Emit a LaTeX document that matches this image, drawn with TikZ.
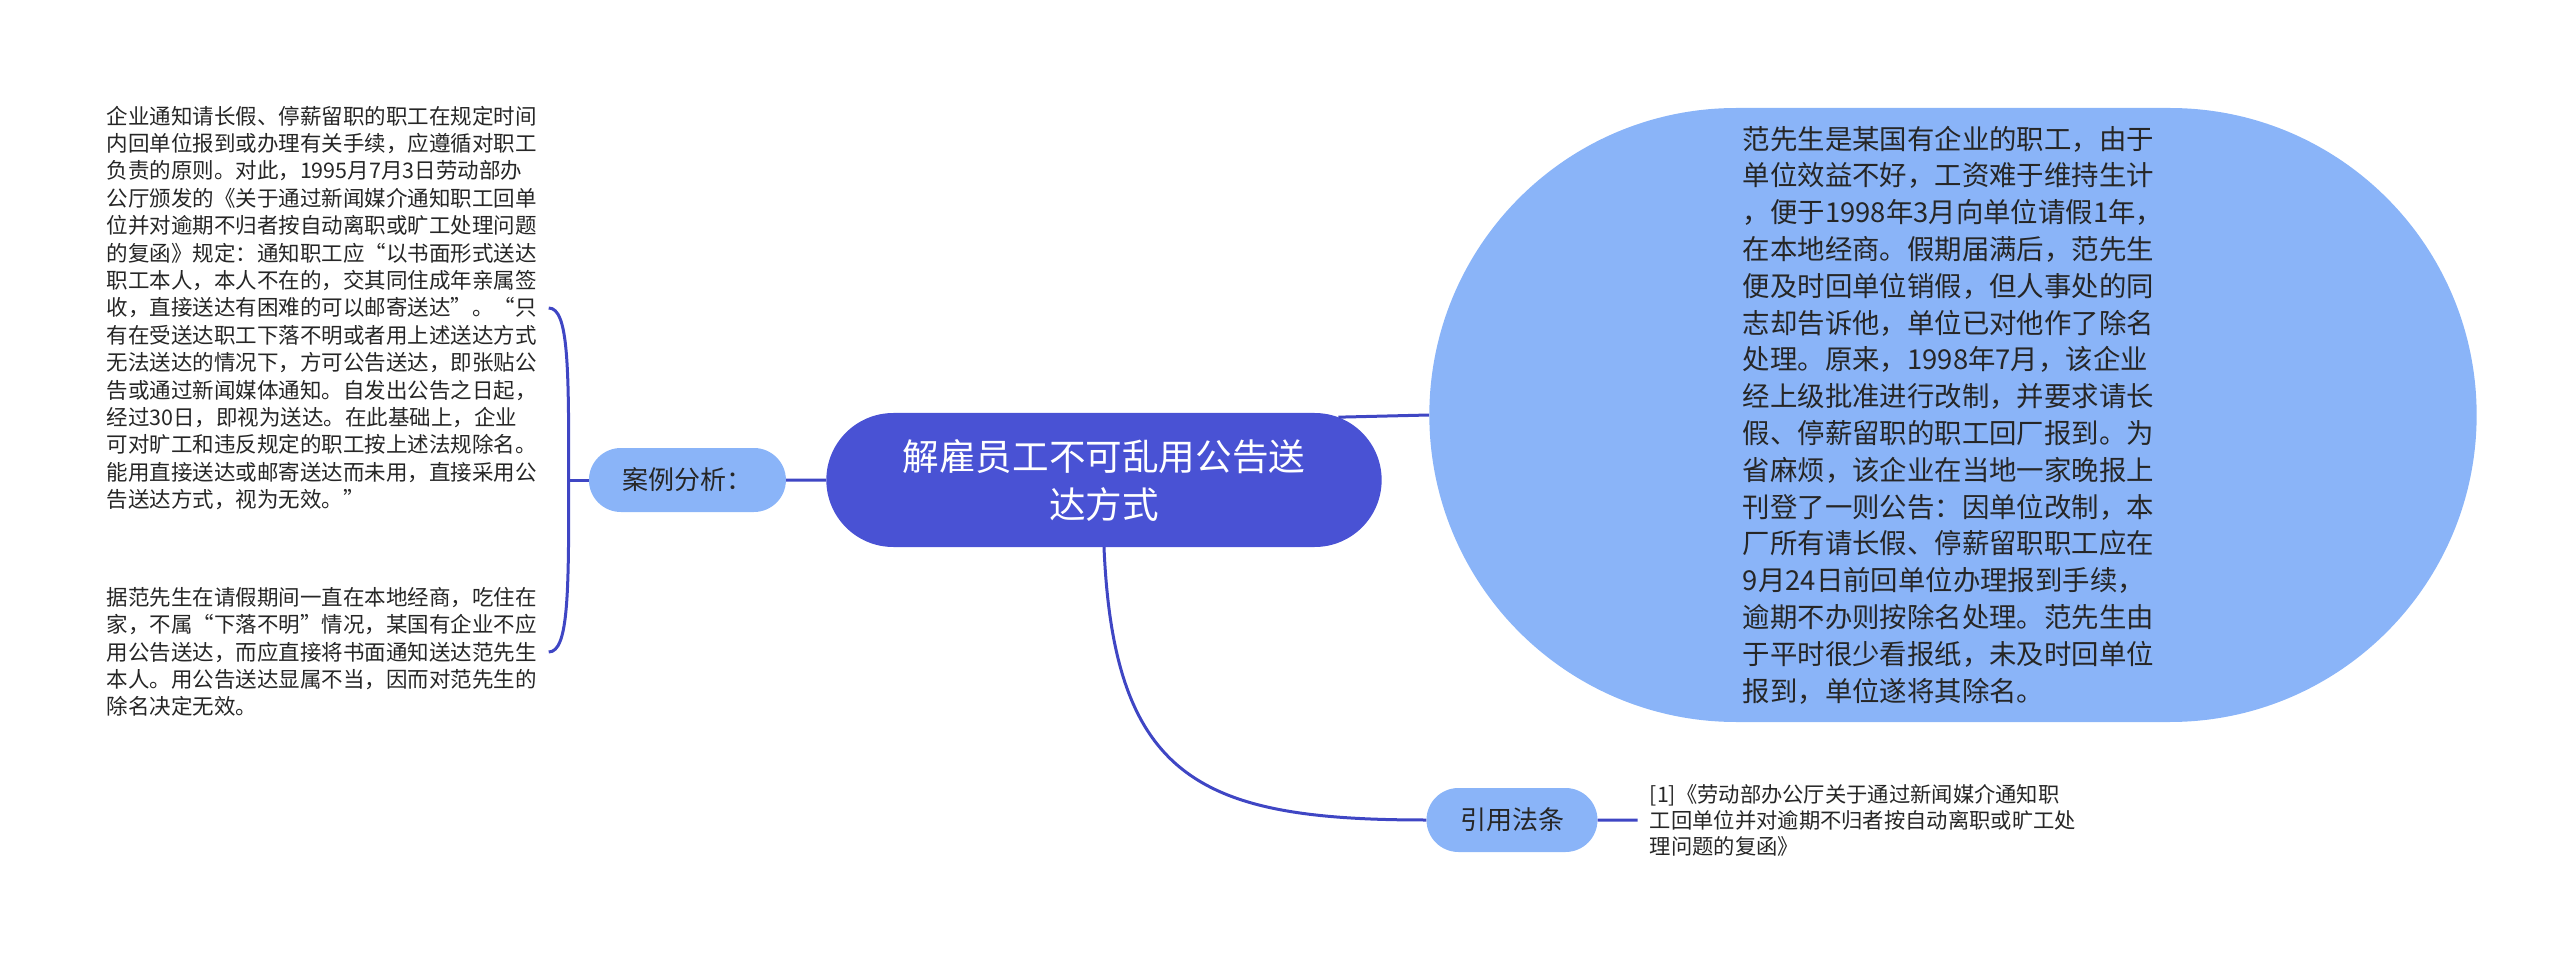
\documentclass[tikz,border=0pt]{standalone}
\usepackage{fontspec}
\setmainfont{Noto Sans CJK SC}
\usepackage{tikz}
\usetikzlibrary{positioning,shapes.misc,calc}
\definecolor{topicblue}{HTML}{4952D4}
\definecolor{branchblue}{HTML}{8AB4F8}
\definecolor{linkblue}{HTML}{3F46C4}
\definecolor{inkgray}{HTML}{262626}

\begin{document}
\begin{tikzpicture}[x=1pt, y=1pt, node distance=40pt,
    every node/.style={text=inkgray, align=left},
    topic/.style={rounded rectangle, fill=topicblue, text=white, align=center,
      minimum width=562pt, minimum height=134pt, font=\fontsize{36.6}{48}\selectfont},
    branch/.style={rounded rectangle, fill=branchblue, inner xsep=2pt,
      minimum height=64pt, font=\fontsize{26}{30}\selectfont},
    note/.style={inner sep=12pt, font=\fontsize{21.5}{27.4}\selectfont},
    conn/.style={draw=linkblue, line width=3pt}]
    \useasboundingbox (-1104,-484) rectangle (1456,480);

    \node[topic] (main) {解雇员工不可乱用公告送\\达方式};
    \node[branch, minimum width=201pt, left=of main] (case) {案例分析：};
    \node[note, anchor=east] (factA) at ($(case.west)+(-40,172)$)
      {企业通知请长假、停薪留职的职工在规定时间\\
       内回单位报到或办理有关手续，应遵循对职工\\
       负责的原则。对此，1995月7月3日劳动部办\\
       公厅颁发的《关于通过新闻媒介通知职工回单\\
       位并对逾期不归者按自动离职或旷工处理问题\\
       的复函》规定：通知职工应“以书面形式送达\\
       职工本人，本人不在的，交其同住成年亲属签\\
       收，直接送达有困难的可以邮寄送达”。“只\\
       有在受送达职工下落不明或者用上述送达方式\\
       无法送达的情况下，方可公告送达，即张贴公\\
       告或通过新闻媒体通知。自发出公告之日起，\\
       经过30日，即视为送达。在此基础上，企业\\
       可对旷工和违反规定的职工按上述法规除名。\\
       能用直接送达或邮寄送达而未用，直接采用公\\
       告送达方式，视为无效。”};
    \node[note, anchor=east] (factB) at ($(case.west)+(-40,-172)$)
      {据范先生在请假期间一直在本地经商，吃住在\\
       家，不属“下落不明”情况，某国有企业不应\\
       用公告送达，而应直接将书面通知送达范先生\\
       本人。用公告送达显属不当，因而对范先生的\\
       除名决定无效。};
    \node[rounded rectangle, fill=branchblue, minimum width=1054pt, minimum height=614pt,
          font=\fontsize{27.4}{36.8}\selectfont] (story) at (849,65)
      {范先生是某国有企业的职工，由于\\
       单位效益不好，工资难于维持生计\\
       ，便于1998年3月向单位请假1年，\\
       在本地经商。假期届满后，范先生\\
       便及时回单位销假，但人事处的同\\
       志却告诉他，单位已对他作了除名\\
       处理。原来，1998年7月，该企业\\
       经上级批准进行改制，并要求请长\\
       假、停薪留职的职工回厂报到。为\\
       省麻烦，该企业在当地一家晚报上\\
       刊登了一则公告：因单位改制，本\\
       厂所有请长假、停薪留职职工应在\\
       9月24日前回单位办理报到手续，\\
       逾期不办则按除名处理。范先生由\\
       于平时很少看报纸，未及时回单位\\
       报到，单位遂将其除名。};
    \node[branch, minimum width=175pt] (law) at (408,-340) {引用法条};
    \node[note, anchor=west, font=\fontsize{21.3}{26}\selectfont] (cite) at ($(law.east)+(40,0)$)
      {[1]《劳动部办公厅关于通过新闻媒介通知职\\
       工回单位并对逾期不归者按自动离职或旷工处\\
       理问题的复函》};

    % links
    \draw[conn] (case) -- (main);
    \draw[conn] (main.15) -- (story.west);
    \draw[conn] (main.south) .. controls +(10,-233) and +(-225,0) .. (law.west);
    \draw[conn] (law) -- (cite);
    \draw[conn] (case.west) -- ++(-20,0) coordinate (fork);
    \draw[conn] (fork) .. controls ($(fork |- factA.east)+(0,-60)$) and (fork |- factA.east) .. (factA.east);
    \draw[conn] (fork) .. controls ($(fork |- factB.east)+(0,60)$) and (fork |- factB.east) .. (factB.east);
  \end{tikzpicture}
\end{document}
